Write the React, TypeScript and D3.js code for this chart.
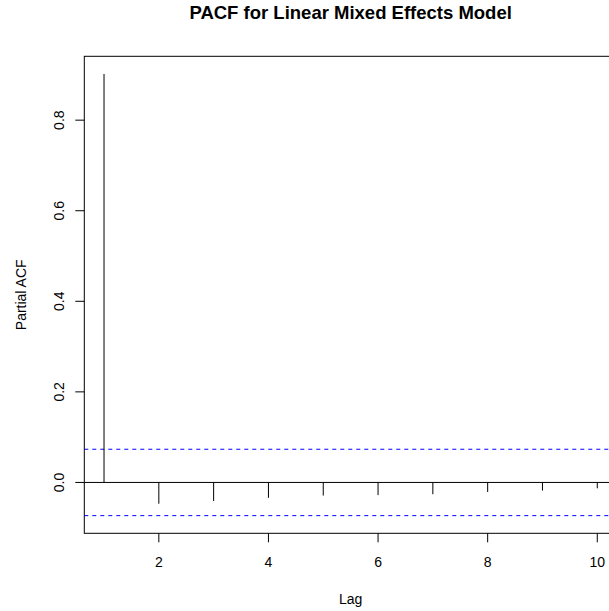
import React from "react";
import * as d3 from "d3";

// PACF estimates, lags 1..10
const lags = [1, 2, 3, 4, 5, 6, 7, 8, 9, 10];
const pacfValues = [0.902, -0.047, -0.041, -0.034, -0.029, -0.028, -0.026, -0.021, -0.018, -0.013];
const confLimit = 0.0733;
const xTicks = [2, 4, 6, 8, 10];
const yTicks = [0, 0.2, 0.4, 0.6, 0.8];

const width = 609;
const height = 611;
const plot = { left: 84.3, top: 56.3, right: 617, bottom: 533.3 };
const font = "'Liberation Sans', Arial, Helvetica, sans-serif";

const App = () => {
  const lo = d3.min(lags)!;
  const hi = d3.max(lags)!;
  const xPad = (hi - lo) * 0.04;
  const xScale = d3.scaleLinear().domain([lo - xPad, hi + xPad]).range([plot.left, plot.right]);

  const yMin = Math.min(d3.min(pacfValues)!, -confLimit);
  const yMax = Math.max(d3.max(pacfValues)!, confLimit);
  const yPad = (yMax - yMin) * 0.04;
  const yScale = d3.scaleLinear().domain([yMin - yPad, yMax + yPad]).range([plot.bottom, plot.top]);

  const midX = (plot.left + plot.right) / 2;
  const midY = (plot.top + plot.bottom) / 2;

  return (
    <svg
      width={width}
      height={height}
      style={{ position: "absolute", left: 0, top: 0, background: "#fff" }}
      fontFamily={font}
    >
      <text x={midX} y={19} textAnchor="middle" fontWeight="bold" fontSize={18.5}>
        PACF for Linear Mixed Effects Model
      </text>

      {/* zero line */}
      <line x1={plot.left} x2={plot.right} y1={yScale(0)} y2={yScale(0)} stroke="#000" strokeWidth={1} />

      {/* confidence bounds */}
      {[confLimit, -confLimit].map((c) => (
        <line
          key={c}
          x1={plot.left}
          x2={plot.right}
          y1={yScale(c)}
          y2={yScale(c)}
          stroke="#0000ff"
          strokeWidth={1}
          strokeDasharray="4,4"
        />
      ))}

      {/* pacf spikes */}
      {lags.map((lag, i) => (
        <line
          key={lag}
          x1={xScale(lag)}
          x2={xScale(lag)}
          y1={yScale(0)}
          y2={yScale(pacfValues[i])}
          stroke="#000"
          strokeWidth={1}
        />
      ))}

      <rect
        x={plot.left}
        y={plot.top}
        width={plot.right - plot.left}
        height={plot.bottom - plot.top}
        fill="none"
        stroke="#000"
        strokeWidth={1}
      />

      {/* x axis */}
      {xTicks.map((t) => (
        <g key={t} transform={`translate(${xScale(t)},0)`}>
          <line y1={plot.bottom} y2={plot.bottom + 9} stroke="#000" />
          <text y={567} textAnchor="middle" fontSize={14}>
            {t}
          </text>
        </g>
      ))}
      <text x={midX} y={604} textAnchor="middle" fontSize={14}>
        Lag
      </text>

      {/* y axis */}
      {yTicks.map((t) => (
        <g key={t} transform={`translate(0,${yScale(t)})`}>
          <line x1={plot.left - 9} x2={plot.left} stroke="#000" />
          <text transform="translate(64,0) rotate(-90)" textAnchor="middle" fontSize={14}>
            {d3.format(".1f")(t)}
          </text>
        </g>
      ))}
      <text transform={`translate(26,${midY}) rotate(-90)`} textAnchor="middle" fontSize={14}>
        Partial ACF
      </text>
    </svg>
  );
};

export default App;
